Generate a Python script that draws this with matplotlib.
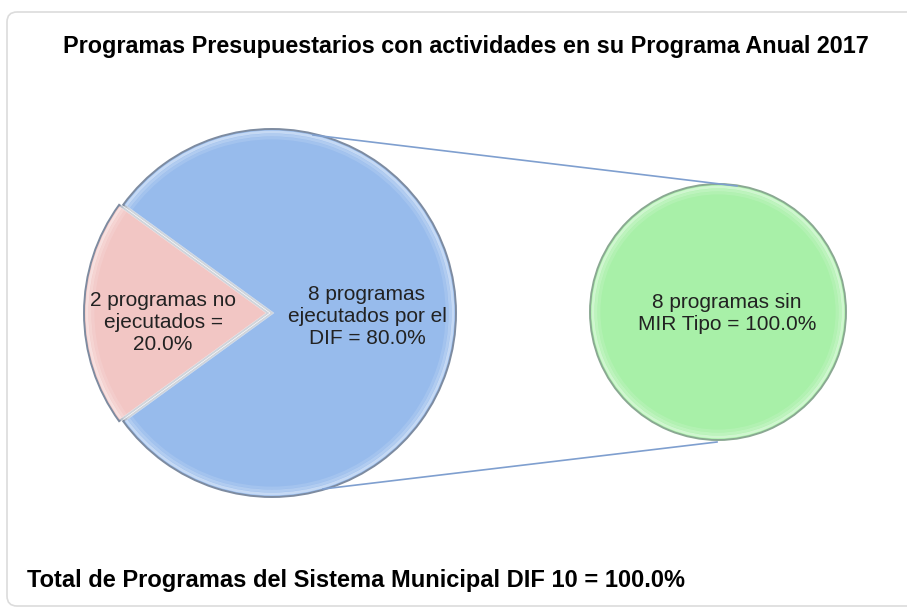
import matplotlib
matplotlib.use("Agg")
import matplotlib.pyplot as plt
from matplotlib.patches import FancyBboxPatch

plt.rcParams['font.family'] = ['Liberation Sans', 'DejaVu Sans']

# data
main_labels = ["2 programas no\nejecutados =\n20.0%", "8 programas\nejecutados por el\nDIF = 80.0%"]
main_values = [2, 8]
main_colors = ["#f2c6c4", "#97bbec"]
sub_labels = ["8 programas sin\nMIR Tipo = 100.0%"]
sub_values = [8]
sub_colors = ["#a8f0a8"]
title = "Programas Presupuestarios con actividades en su Programa Anual 2017"
footer = "Total de Programas del Sistema Municipal DIF 10 = 100.0%"

W, H = 907, 610
fig = plt.figure(figsize=(W / 100, H / 100), dpi=100)
ax = fig.add_axes([0, 0, 1, 1])


def bevel_pie(values, colors, center, r, start=0, explode=None, rim="#7d8ba0"):
    # base wedges
    ws, _ = ax.pie(values, colors=colors, startangle=start, radius=r,
                   center=center, explode=explode,
                   wedgeprops=dict(edgecolor=rim, linewidth=1.4))
    # soft inner highlight to fake the bevel
    for k, a in [(3, 0.45), (6, 0.25), (9, 0.12)]:
        ax.pie(values, colors=["none"] * len(values), startangle=start,
               radius=r - k, center=center, explode=explode,
               wedgeprops=dict(edgecolor="white", linewidth=2, alpha=a))
    return ws


# main pie (pixel coordinates, y goes down)
cx, cy, r = 272, 313, 184
bevel_pie(main_values, main_colors, (cx, cy), r, start=144, explode=[4, 0])

ax.text(163, 323, main_labels[0], ha="center", va="center", fontsize=15,
        color="#222222", linespacing=1.2)
ax.text(367, 316, main_labels[1], ha="center", va="center", fontsize=15,
        color="#222222", linespacing=1.2)

# secondary pie
sx, sy, sr = 718, 312, 128
bevel_pie(sub_values, sub_colors, (sx, sy), sr, rim="#8aa892")
ax.text(727, 314, sub_labels[0], ha="center", va="center", fontsize=15,
        color="#222222", linespacing=1.2)

# connector lines
ax.plot([313, 737], [135, 186], color="#7f9fcf", lw=1.2)
ax.plot([323, 717], [489, 442], color="#7f9fcf", lw=1.2)

# frame
frame = FancyBboxPatch((7, 12), W + 20, H - 16, boxstyle="round,pad=0,rounding_size=10",
                       fc="none", ec="#dcdcdc", lw=1.2)
ax.add_patch(frame)

ax.text(466, 47, title, ha="center", va="center", fontsize=16.8,
        fontweight="bold", color="black")
ax.text(27, 581, footer, ha="left", va="center", fontsize=17,
        fontweight="bold", color="black")

ax.set_xlim(0, W)
ax.set_ylim(H, 0)
ax.set_aspect("equal")
ax.axis("off")

fig.savefig("out.png", dpi=100, facecolor="white")
